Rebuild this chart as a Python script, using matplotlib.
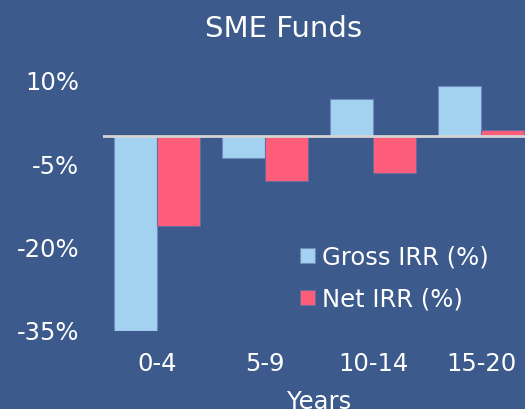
import numpy as np
import matplotlib.pyplot as plt

# Datos
categorias = ['0-4', '5-9', '10-14', '15-20']
gross_irr = [-35.0, -4.0, 6.6, 9.1]
net_irr = [-16.1, -8.1, -6.6, 1.2]
ticks_y = [10, -5, -20, -35]

fondo = '#3C5A8C'
color_gross = '#A3D1F0'
color_net = '#FF5E7A'

fig = plt.figure(figsize=(5.25, 4.09), dpi=100, facecolor=fondo)
ax = fig.add_axes([0.196, 0.191, 0.823, 0.612], facecolor=fondo)

x = np.arange(len(categorias))
ancho = 0.4
ax.bar(x - ancho / 2, gross_irr, ancho, color=color_gross, edgecolor='#6E8CBC',
       linewidth=0.8, label='Gross IRR (%)')
ax.bar(x + ancho / 2, net_irr, ancho, color=color_net, edgecolor='#6E6A9C',
       linewidth=0.8, label='Net IRR (%)')

# Línea del cero
ax.axhline(0, color='#D4D4D4', linewidth=2, zorder=3)

ax.set_xlim(-0.5, 3.5)
ax.set_ylim(-35, 10)
ax.set_yticks(ticks_y)
ax.set_yticklabels([f'{v}%' for v in ticks_y])
ax.set_xticks(x)
ax.set_xticklabels(categorias)
ax.tick_params(axis='both', length=0, colors='white', labelsize=17.5)
ax.tick_params(axis='y', pad=17)
ax.tick_params(axis='x', pad=15)
for s in ax.spines.values():
    s.set_visible(False)

ax.set_xlabel('Years', color='white', fontsize=17.5, labelpad=10)
fig.text(0.541, 0.93, 'SME Funds', color='white', fontsize=21, ha='center', va='center')

ax.legend(loc='upper left', bbox_to_anchor=(300 / 525, 1 - 245 / 409),
          bbox_transform=fig.transFigure, frameon=False, fontsize=17.5,
          labelcolor='white', handlelength=0.6, handleheight=0.6,
          handletextpad=0.3, labelspacing=0.75, borderpad=0, borderaxespad=0)

plt.savefig('out.png', dpi=100, facecolor=fondo)
